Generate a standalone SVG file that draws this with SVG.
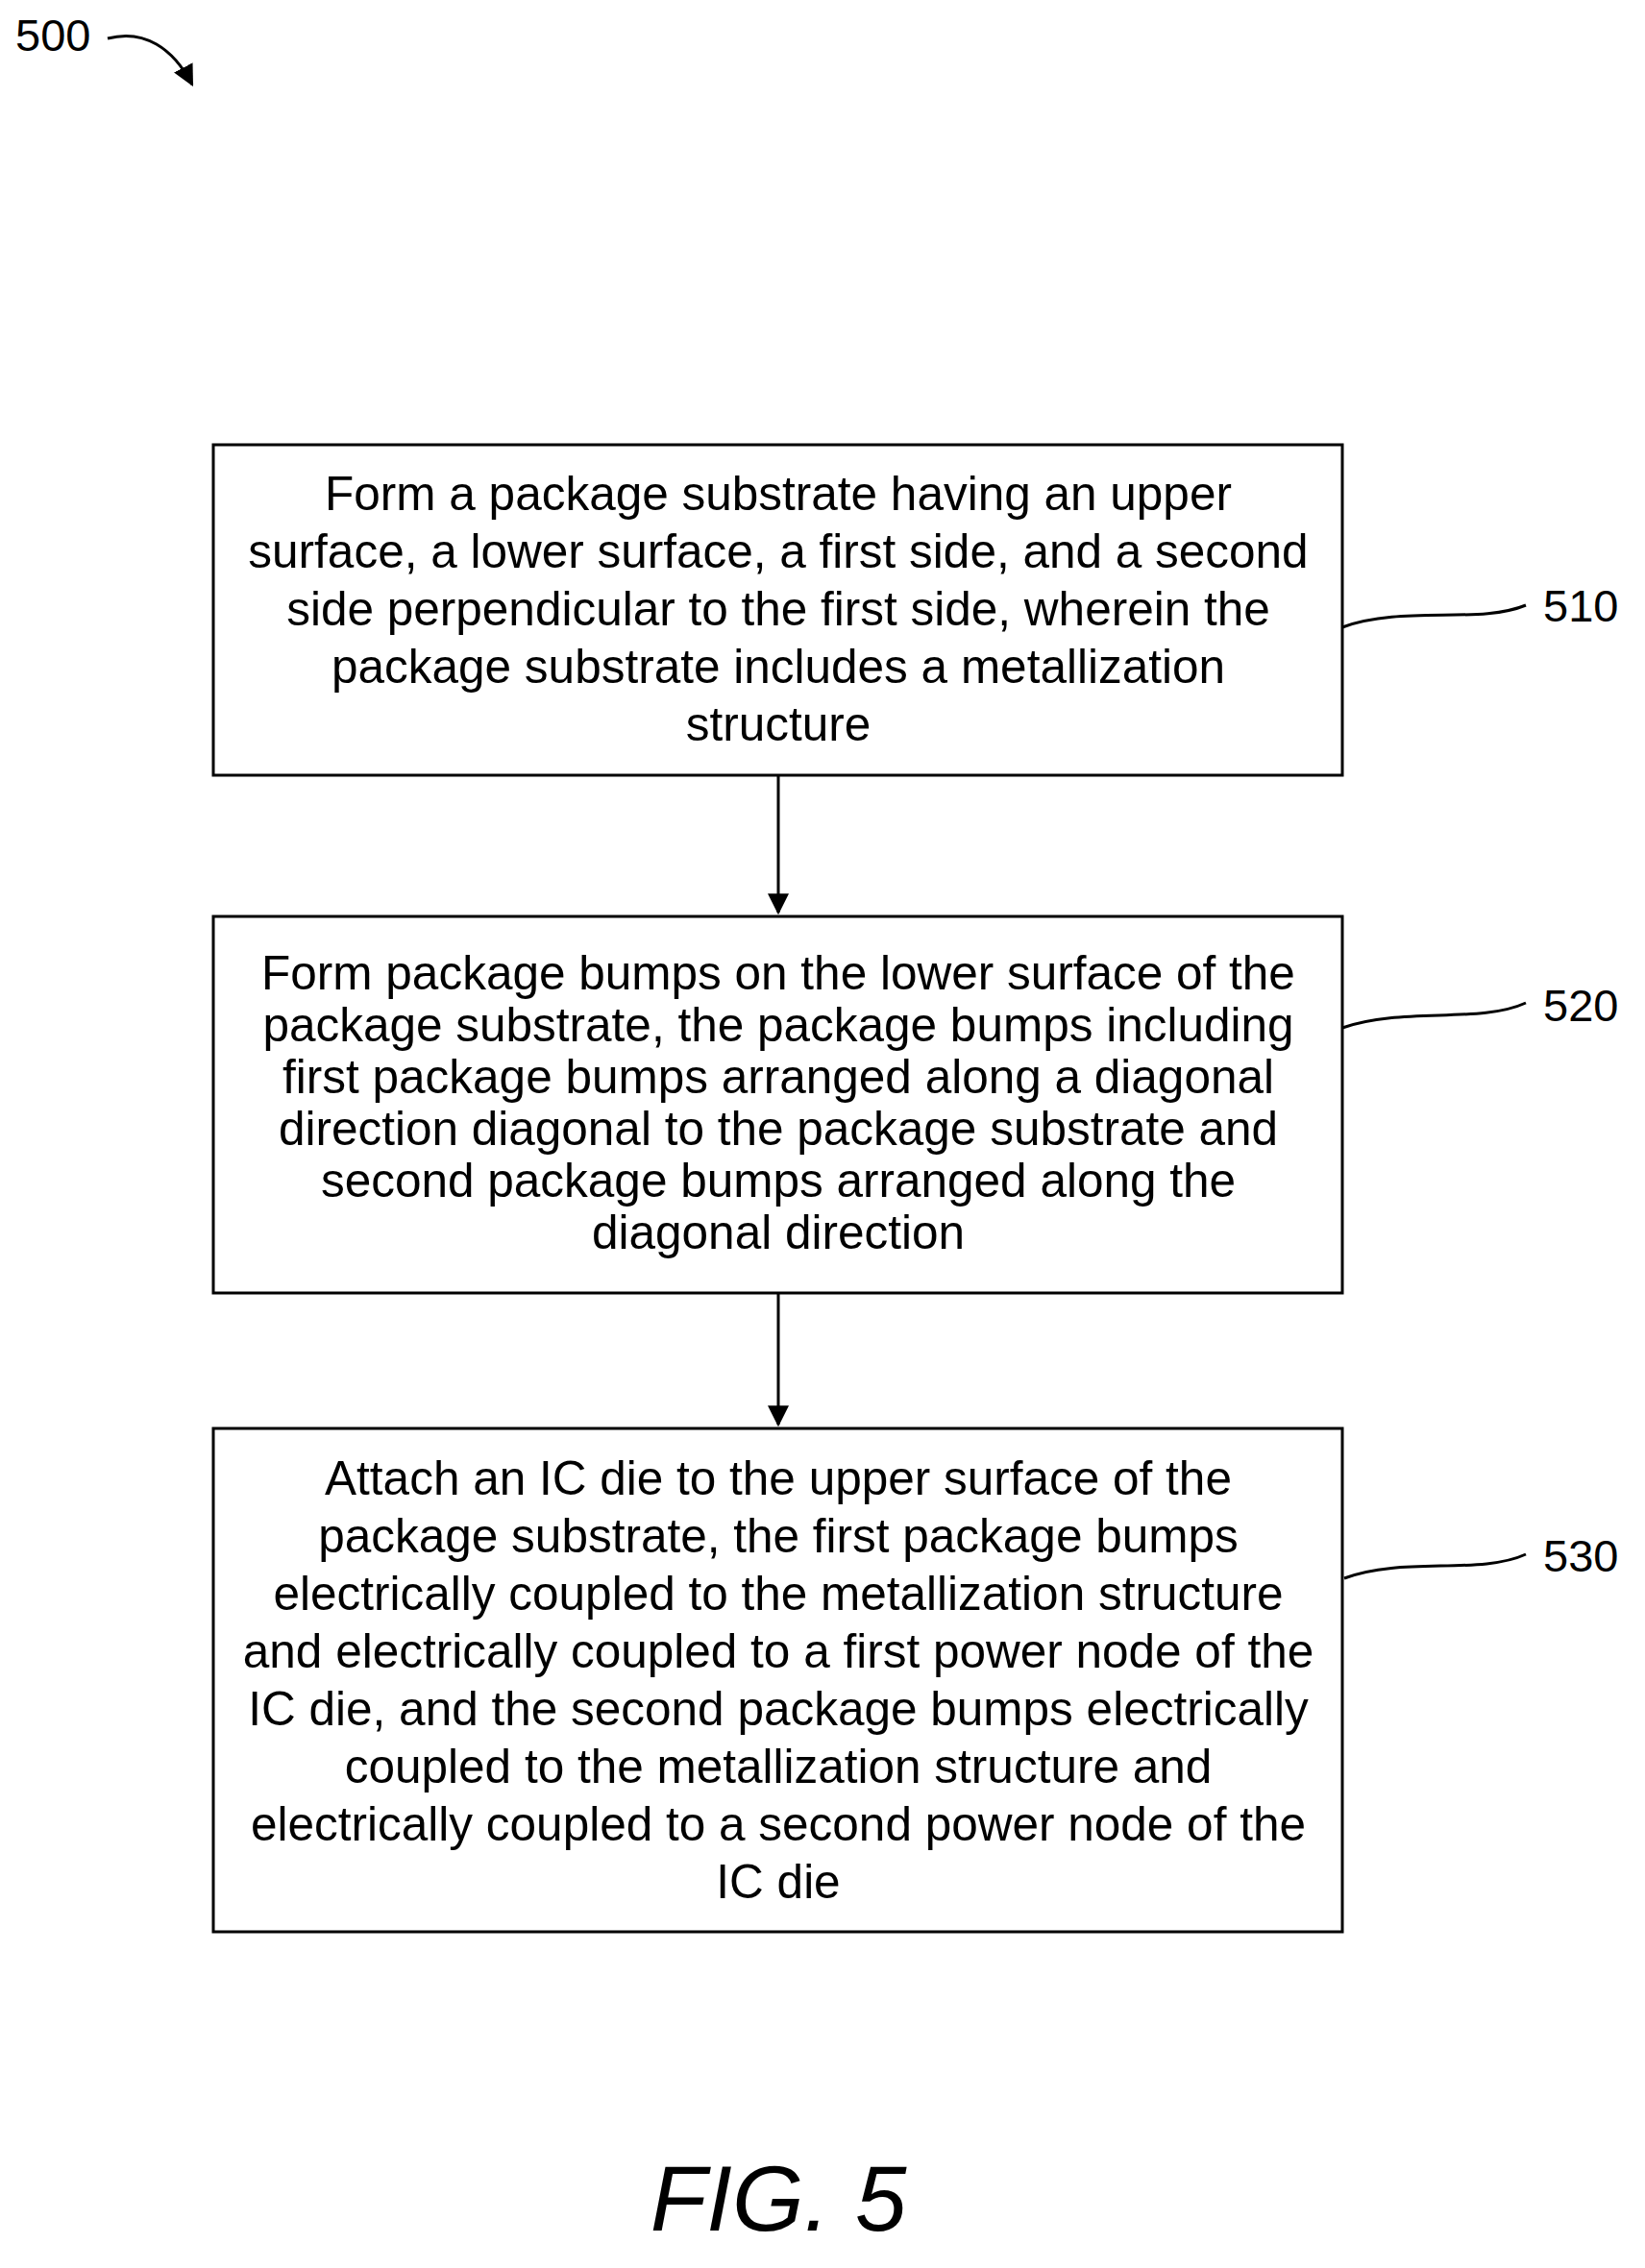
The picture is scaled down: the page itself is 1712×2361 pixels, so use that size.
<svg xmlns="http://www.w3.org/2000/svg" width="1712" height="2361" viewBox="0 0 1712 2361">
<style>
.b{fill:#fff;stroke:#000;stroke-width:3}
.t{font-family:"Liberation Sans",Arial,sans-serif;font-size:49.5px;text-anchor:middle;fill:#000}
.l{font-family:"Liberation Sans",Arial,sans-serif;font-size:47px;fill:#000}
.c{fill:none;stroke:#000;stroke-width:3}
</style>
<defs>
<marker id="ah" viewBox="0 0 10 10" refX="9" refY="5" markerWidth="22" markerHeight="22" orient="auto" markerUnits="userSpaceOnUse"><path d="M0,0L10,5L0,10z"/></marker></defs>
<rect width="1712" height="2361" fill="#fff"/>
<g id="ref500"><text class="l" x="16" y="53">500</text><path class="c" d="M112,40 C150,30 180,50 200,88" marker-end="url(#ah)"/></g>
<g id="n510"><rect class="b" x="222" y="463" width="1175" height="344"/>
<text class="t"><tspan x="810" y="531">Form a package substrate having an upper</tspan><tspan x="810" y="591">surface, a lower surface, a first side, and a second</tspan><tspan x="810" y="651">side perpendicular to the first side, wherein the</tspan><tspan x="810" y="711">package substrate includes a metallization</tspan><tspan x="810" y="771">structure</tspan></text>
<text class="l" x="1606" y="647">510</text></g>
<g id="n520"><rect class="b" x="222" y="954" width="1175" height="392"/>
<text class="t"><tspan x="810" y="1030">Form package bumps on the lower surface of the</tspan><tspan x="810" y="1084">package substrate, the package bumps including</tspan><tspan x="810" y="1138">first package bumps arranged along a diagonal</tspan><tspan x="810" y="1192">direction diagonal to the package substrate and</tspan><tspan x="810" y="1246">second package bumps arranged along the</tspan><tspan x="810" y="1300">diagonal direction</tspan></text>
<text class="l" x="1606" y="1063">520</text></g>
<g id="n530"><rect class="b" x="222" y="1487" width="1175" height="524"/>
<text class="t"><tspan x="810" y="1556">Attach an IC die to the upper surface of the</tspan><tspan x="810" y="1616">package substrate, the first package bumps</tspan><tspan x="810" y="1676">electrically coupled to the metallization structure</tspan><tspan x="810" y="1736">and electrically coupled to a first power node of the</tspan><tspan x="810" y="1796">IC die, and the second package bumps electrically</tspan><tspan x="810" y="1856">coupled to the metallization structure and</tspan><tspan x="810" y="1916">electrically coupled to a second power node of the</tspan><tspan x="810" y="1976">IC die</tspan></text>
<text class="l" x="1606" y="1636">530</text></g>
<g id="connectors">
<path class="c" d="M810,807V950" marker-end="url(#ah)"/>
<path class="c" d="M810,1346V1483" marker-end="url(#ah)"/>
<path class="c" d="M1397,653 C1460,630 1540,650 1588,630"/>
<path class="c" d="M1397,1070 C1460,1048 1540,1066 1588,1044"/>
<path class="c" d="M1399,1643 C1460,1620 1540,1640 1588,1618"/>
</g>
<text x="810" y="2322" font-family="Liberation Sans,Arial,sans-serif" font-style="italic" font-size="96" text-anchor="middle">FIG. 5</text>
</svg>
